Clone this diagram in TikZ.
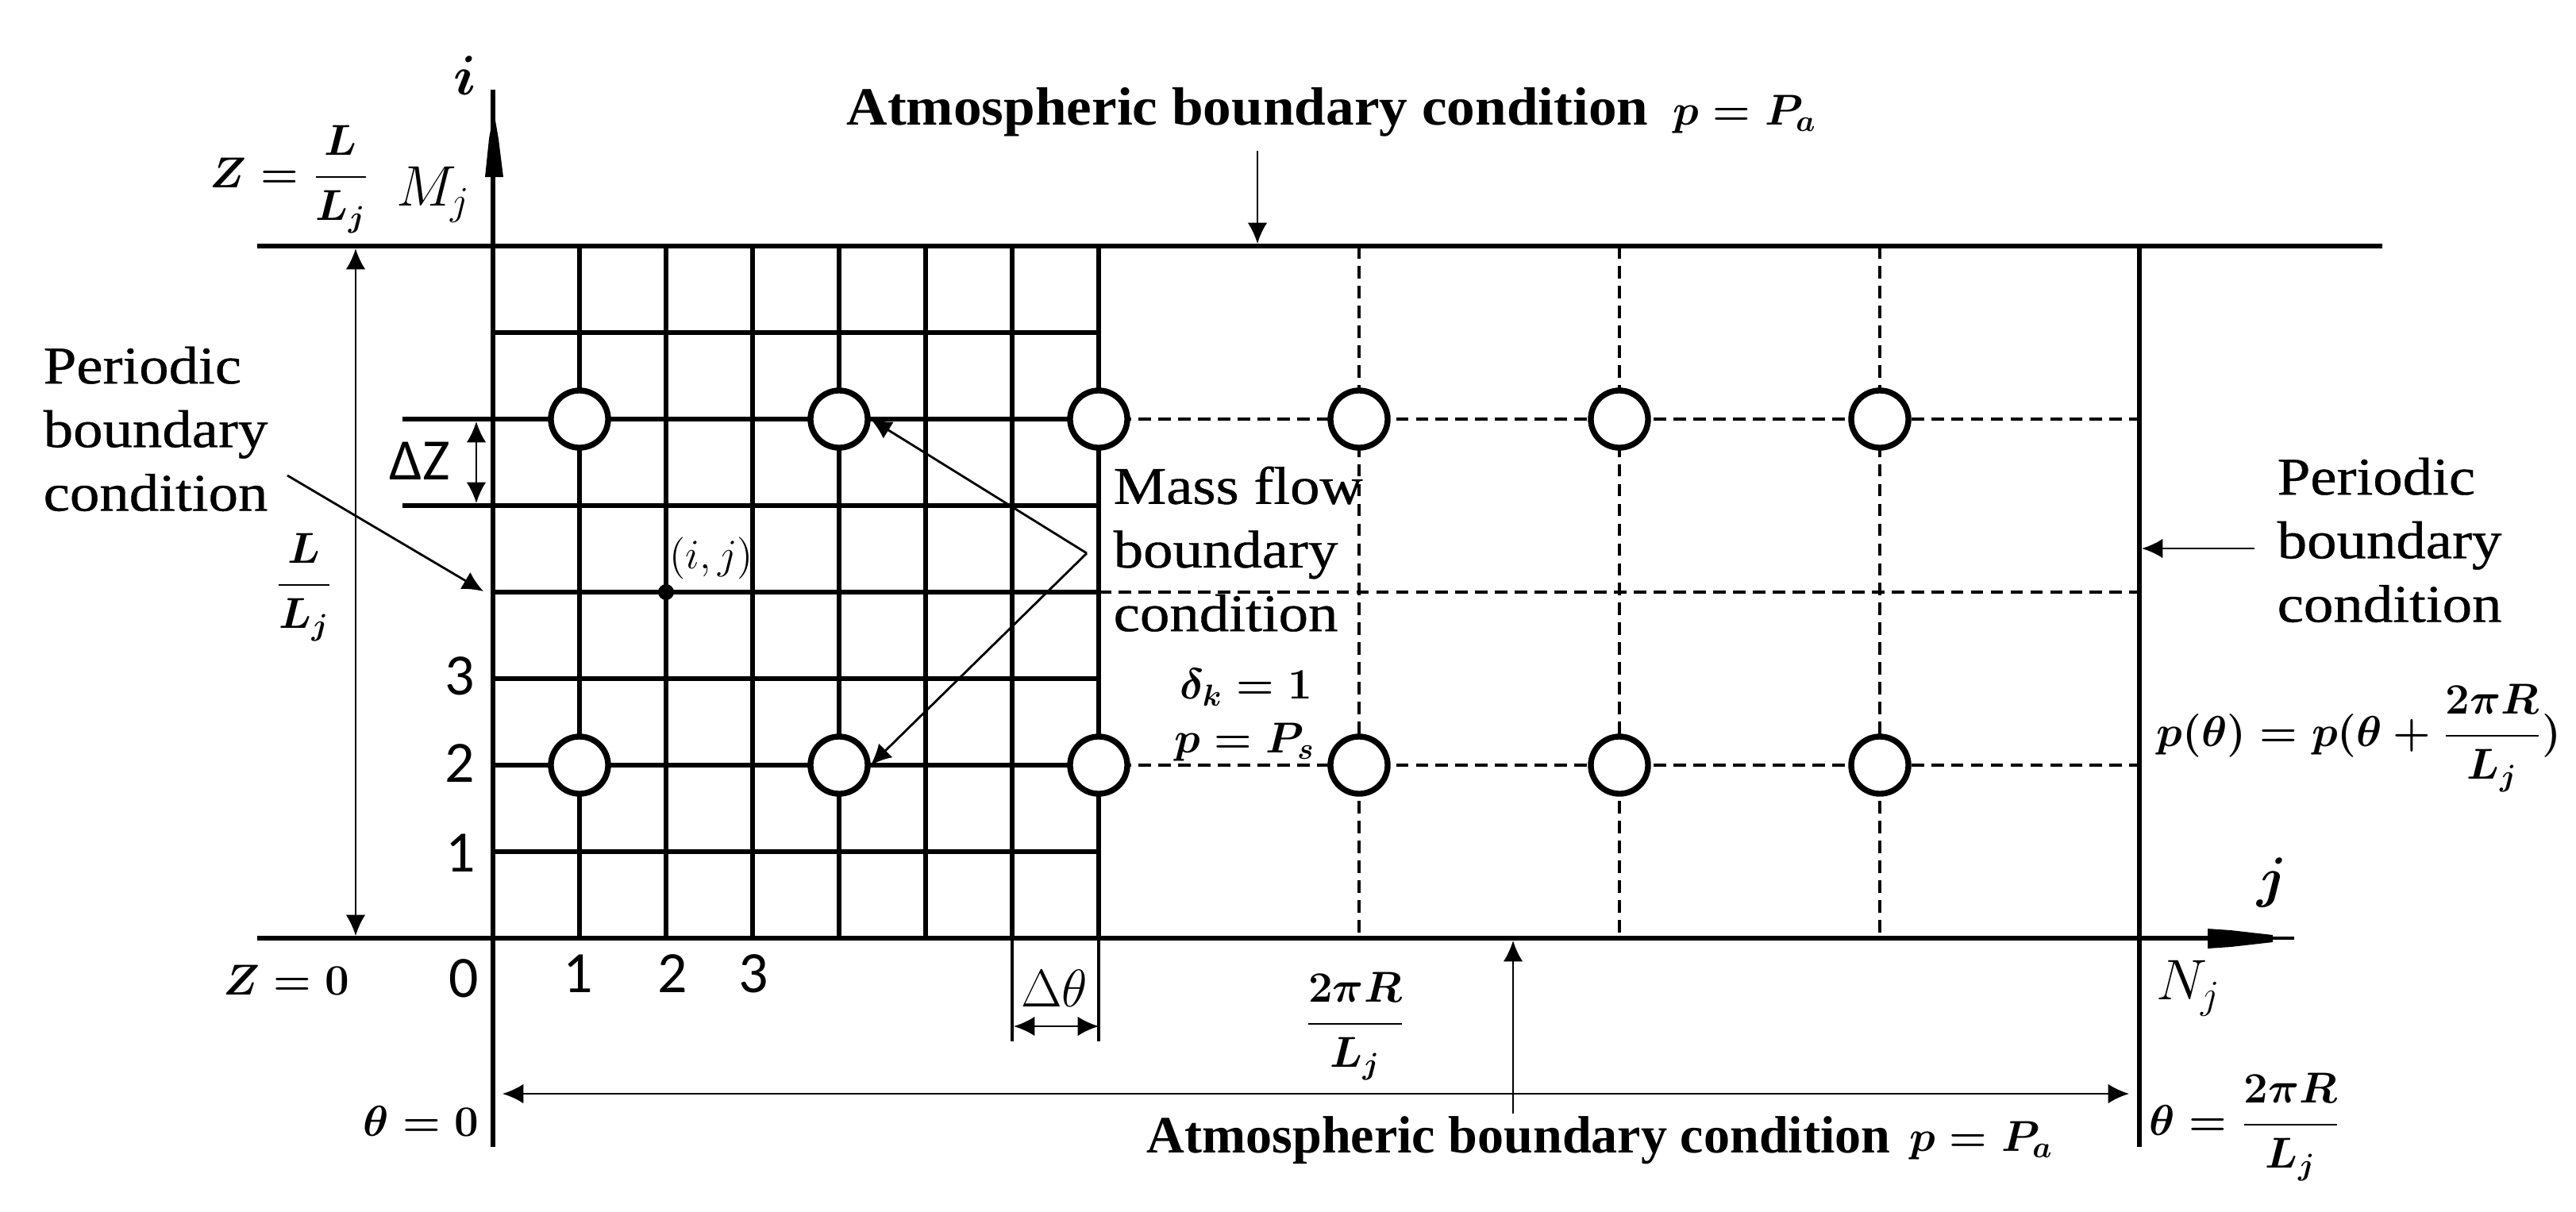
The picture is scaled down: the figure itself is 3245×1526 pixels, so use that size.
\RequirePackage{fix-cm}
\documentclass[tikz,border=0pt]{standalone}
\usepackage{amsmath}
\usepackage{fontspec}
\setmainfont{Liberation Serif}
\newfontfamily\camfont[FakeStretch=1.12,FakeBold=0.6]{Liberation Serif}
\newfontfamily\atmAfont[FakeStretch=1.05]{Liberation Serif}
\newfontfamily\numfont{Carlito}
\usetikzlibrary{arrows.meta}

\tikzset{
  gridln/.style={line width=1.45pt},
  heavyln/.style={line width=1.8pt},
  dashln/.style={line width=1.4pt, dash pattern=on 4.5pt off 2.6pt},
  thinarrow/.style={line width=0.8pt, -{Latex[length=7.5pt,width=7pt]}},
  dimarrow/.style={line width=0.8pt, {Latex[length=7.5pt,width=7pt]}-{Latex[length=7.5pt,width=7pt]}},
  hole/.style={circle, draw, fill=white, line width=2.1pt, minimum size=0.72cm, inner sep=0pt},
  lbltext/.style={font=\camfont\fontsize{19}{22.8}\selectfont, align=left, inner sep=0pt},
  atmtop/.style={font=\atmAfont\bfseries\fontsize{19.3}{23}\selectfont, inner sep=0pt},
  atmbot/.style={font=\bfseries\fontsize{18.8}{23}\selectfont, inner sep=0pt},
  bmath/.style={font=\fontsize{15.5}{18}\selectfont\boldmath, inner sep=0pt},
  bigbold/.style={font=\fontsize{20}{24}\selectfont\boldmath, inner sep=0pt},
  bigreg/.style={font=\fontsize{20.5}{24}\selectfont, inner sep=0pt},
  numtext/.style={font=\numfont\fontsize{21}{25}\selectfont, inner sep=0pt},
}

\begin{document}
\begin{tikzpicture}[x=0.01cm,y=-0.01cm]
\useasboundingbox (0,0) rectangle (3245,1526);
\fill[white] (0,0) rectangle (3245,1526);

% dashed part of the mesh
\foreach \x in {1712,2040,2368} \draw[dashln] (\x,310) -- (\x,1182);
\foreach \y in {528,746,964} \draw[dashln] (1384,\y) -- (2695,\y);

% solid fine mesh
\foreach \k in {1,...,7} \draw[gridln] ({621+109*\k},310) -- ({621+109*\k},1182);
\draw[gridln] (621,419) -- (1384,419);
\draw[gridln] (507,528) -- (1384,528);
\draw[gridln] (507,637) -- (1384,637);
\foreach \y in {746,855,964,1073} \draw[gridln] (621,\y) -- (1384,\y);
\draw[line width=1pt] (1275,1182) -- (1275,1312);
\draw[line width=1pt] (1384,1182) -- (1384,1312);

% boundaries and axes
\draw[heavyln] (324,310) -- (3001,310);
\draw[heavyln] (324,1182) -- (2790,1182);
\draw[line width=1pt] (2790,1182) -- (2890,1182);
\fill (2781,1170) -- (2810,1172) -- (2863,1178) -- (2863,1187) -- (2810,1193) -- (2781,1195) -- cycle;
\draw[gridln] (621,113) -- (621,1445);
\fill (611,223) -- (634,223) -- (628,175) -- (622,140) -- (616,175) -- cycle;
\draw[gridln] (2695,310) -- (2695,1445);

% orifices
\foreach \n/\x in {1/730,2/1057,3/1384,4/1712,5/2040,6/2368} {
  \node[hole] (t\n) at (\x,528) {};
  \node[hole] (b\n) at (\x,964) {};
}
\node[circle, fill, inner sep=0pt, minimum size=0.2cm] (ij) at (839,746) {};

% dimension arrows
\coordinate (dimT) at (448,313);
\coordinate (dimB) at (448,1179);
\draw[dimarrow] (dimT) -- (dimB);
\coordinate (dzT) at (600,531);
\coordinate (dzB) at (600,634);
\draw[dimarrow] (dzT) -- (dzB);
\coordinate (dthL) at (1277,1293);
\coordinate (dthR) at (1384,1293);
\draw[dimarrow] (dthL) -- (dthR);
\coordinate (thL) at (633,1378);
\coordinate (thR) at (2682,1378);
\draw[dimarrow] (thL) -- (thR);

% texts
\node[atmtop, anchor=base west] (atop) at (1066,157) {Atmospheric boundary condition};
\node[bmath, anchor=base west] (patop) at (2107,157) {$p = P_a$};
\node[atmbot, anchor=base west] (abot) at (1444,1452) {Atmospheric boundary condition};
\node[bmath, anchor=base west] (pabot) at (2405,1450) {$p = P_a$};

\node[lbltext, anchor=north west] (perL) at (54,436) {Periodic\\boundary\\condition};
\node[lbltext, anchor=north west] (mass) at (1402,587) {Mass flow\\boundary\\condition};
\node[lbltext, anchor=north west] (perR) at (2868,576) {Periodic\\boundary\\condition};

\node[bigbold] (ilab) at (586,95) {$i$};
\node[bigbold] (jlab) at (2862,1112) {$j$};
\node[bigreg] (Mj) at (546,245) {$M_j$};
\node[bigreg] (Nj) at (2757,1245) {$N_j$};

\node[bmath] (zL) at (365,226) {$Z=\dfrac{L}{L_j}$};
\node[bmath] (lL) at (383,740) {$\dfrac{L}{L_j}$};
\node[bmath] (z0) at (361,1235) {$Z=0$};
\node[bmath] (t0) at (530,1413) {$\theta=0$};
\node[bmath] (tpr) at (1707,1293) {$\dfrac{2\pi R}{L_j}$};
\node[bmath] (tN) at (2828,1420) {$\theta=\dfrac{2\pi R}{L_j}$};
\node[bmath, anchor=west] (pper) at (2716,930) {$p(\theta)=p(\theta+\dfrac{2\pi R}{L_j})$};
\node[bmath] (dk) at (1570,866) {$\delta_k=1$};
\node[bmath] (ps) at (1568,935) {$p=P_s$};

\node[font=\fontsize{19}{22}\selectfont, inner sep=0pt] (dth) at (1328,1245) {$\Delta\theta$};
\node[font=\fontsize{15}{18}\selectfont, inner sep=0pt] (ijl) at (896,703) {$(i,j)$};
\node[numtext] (dZ) at (529,581) {ΔZ};

\node[numtext] (r3) at (579,852) {3};
\node[numtext] (r2) at (579,962) {2};
\node[numtext] (r1) at (580,1075) {1};
\node[numtext] (c0) at (584,1233) {0};
\node[numtext] (c1) at (728,1227) {1};
\node[numtext] (c2) at (847,1227) {2};
\node[numtext] (c3) at (949,1227) {3};

% pointer arrows
\coordinate (atS) at (1584,190);
\coordinate (atE) at (1584,307);
\draw[thinarrow] (atS) -- (atE);
\coordinate (abS) at (1906,1403);
\coordinate (abE) at (1906,1185);
\draw[thinarrow] (abS) -- (abE);
\coordinate (prS) at (2840,691);
\coordinate (prE) at (2698,691);
\draw[thinarrow] (prS) -- (prE);
\coordinate (plS) at (362,599);
\coordinate (plE) at (609,745);
\draw[thinarrow] (plS) -- (plE);
\coordinate (apex) at (1369,697);
\draw[thinarrow] (apex) -- (t2.east);
\draw[thinarrow] (apex) -- (b2.east);
\end{tikzpicture}
\end{document}
